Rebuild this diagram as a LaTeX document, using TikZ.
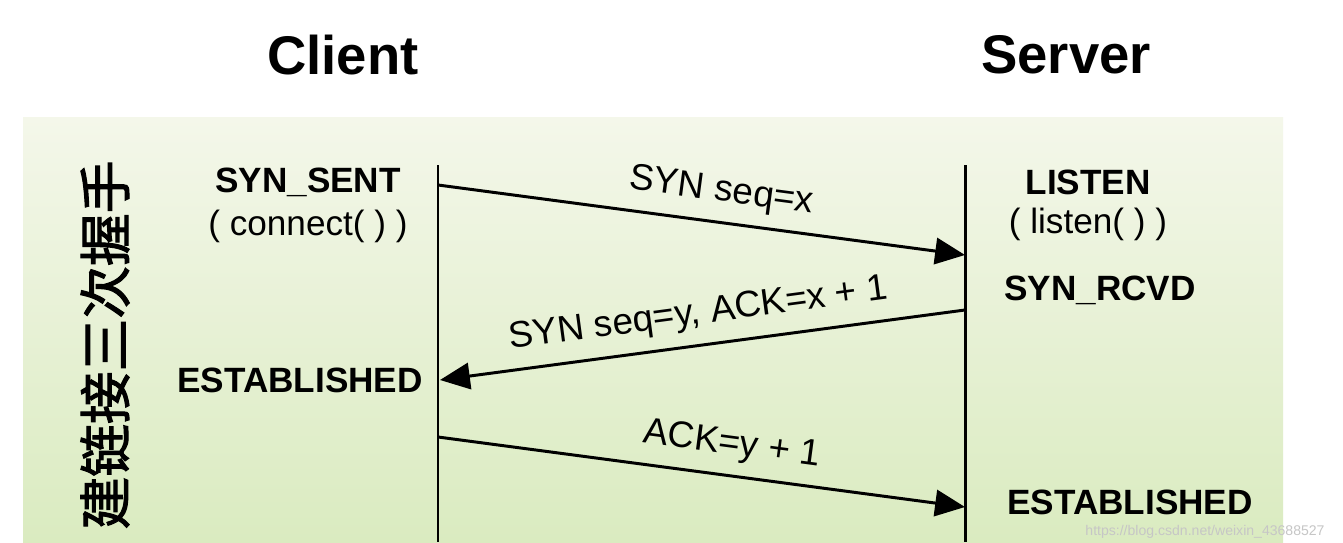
\documentclass[tikz,border=0pt]{standalone}
\usepackage{fontspec}
\setmainfont{Liberation Sans}
\newfontfamily\cjk[FakeBold=2]{Noto Sans CJK SC}
\usetikzlibrary{arrows.meta,positioning}
\definecolor{pnltop}{RGB}{244,247,234}
\definecolor{pnlbot}{RGB}{218,235,192}
\tikzset{hd/.style={font=\fontsize{31}{34}\selectfont\bfseries,inner sep=0pt},
 stt/.style={font=\fontsize{20}{22}\selectfont\bfseries,inner sep=0pt},
 cmt/.style={font=\fontsize{20}{22}\selectfont,inner sep=0pt},
 ml/.style={font=\fontsize{21}{24}\selectfont,sloped,above=7pt,inner sep=0pt},
 ln/.style={line width=1.7pt},
 ar/.style={line width=1.7pt,-{Triangle[length=17pt,width=15pt]}}}

\begin{document}
\begin{tikzpicture}[x=0.02cm,y=-0.02cm]
\useasboundingbox[fill=white](0,0)rectangle(1343,542);
\shade[top color=pnltop,bottom color=pnlbot](23,117)rectangle(1283,542);
% heads
\node[hd](cli)at(343,55){Client};\node[hd](srv)at(1066,55){Server};
\node[rotate=90,inner sep=0pt,font=\cjk\fontsize{30}{32}\selectfont](hs)at(105,345){建链接三次握手};
% lifelines
\coordinate(ct)at(438,165);\coordinate(cb)at(438,542);\coordinate(stp)at(965,165);\coordinate(sb)at(965,542);
\draw[ln](ct)--(cb);\draw[ln](stp)--(sb);
% states
\node[stt](ss)at(308,182){SYN\_SENT};\node[cmt,below=22pt of ss.south,anchor=base](cn){( connect( ) )};
\node[stt](ce)at(300,380){ESTABLISHED};
\node[stt](ls)at(1088,182){LISTEN};\node[cmt,below=22pt of ls.south,anchor=base](lt){( listen( ) )};
\node[stt](sr)at(1100,290){SYN\_RCVD};\node[stt](se)at(1130,502){ESTABLISHED};
% messages
\coordinate(a1)at(438,185);\coordinate(b1)at(965,255);
\coordinate(a2)at(965,310);\coordinate(b2)at(440,380);
\coordinate(a3)at(438,437);\coordinate(b3)at(965,507);
\draw[ar](a1)--node[ml,pos=0.53](m1){SYN seq=x}(b1);
\draw[ar](a2)--node[ml,pos=0.5](m2){SYN seq=y, ACK=x + 1}(b2);
\draw[ar](a3)--node[ml,pos=0.55](m3){ACK=y + 1}(b3);
\node[font=\fontsize{8}{9}\selectfont,text=gray!45,inner sep=0pt](wm)at(1205,532){https://blog.csdn.net/weixin\_43688527};
\end{tikzpicture}
\end{document}
